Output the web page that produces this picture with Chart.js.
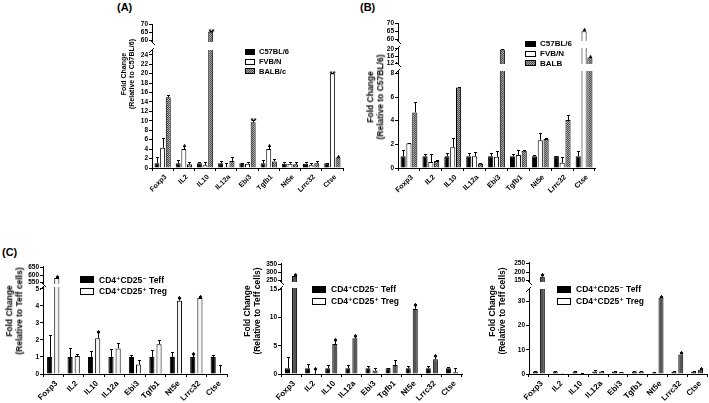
<!DOCTYPE html>
<html>
<head>
<meta charset="utf-8">
<script src="https://cdn.jsdelivr.net/npm/chart.js@4.4.0/dist/chart.umd.min.js"></script>
<style>
body { margin: 0; background: #fff; }
#fig { position: relative; width: 709px; height: 403px; overflow: hidden; background: #fff;
       font-family: 'Liberation Sans', Arial, 'DejaVu Sans', sans-serif; font-weight: bold; color: #000; }
#fig canvas { position: absolute; }
.panel-label { position: absolute; font-size: 11px; }
.ytitle { position: absolute; white-space: nowrap; text-align: center; line-height: 1.15;
          transform: translate(-50%, -50%) rotate(-90deg); }
.legend { position: absolute; }
.legend .row { display: flex; align-items: center; white-space: nowrap; }
.legend .box { display: inline-block; border: 1px solid #000; box-sizing: border-box; }
</style>
</head>
<body>
<div id="fig"></div>
<script>
const FONT = "'Liberation Sans', Arial, sans-serif";

const categories = ['Foxp3', 'IL2', 'IL10', 'IL12a', 'Ebi3', 'Tgfb1', 'Nt5e', 'Lrrc32', 'Ctse'];

// (A) mouse strains, relative to C57BL/6
const aLabels = ['C57BL/6', 'FVB/N', 'BALB/c'];
const aC57 = [1, 1, 1, 1, 1, 1, 0.9, 0.9, 1];
const aC57Sd = [1.4, 0.6, 0.3, 0.4, 0.1, 0.6, 0.4, 0.3, 0.1];
const aFVB = [4.3, 4, 0.6, 0.2, 0.9, 4, 0.9, 0.6, 20];
const aFVBSd = [2, 0.6, 0.6, 0.8, 0.4, 0.6, 0.4, 0.5, 0.1];
const aFVBStars = ['', '*', '', '', '', '*', '', '', '**'];
const aBALB = [15, 0.8, 65.3, 1.5, 9.7, 1.4, 0.8, 1, 2.2];
const aBALBSd = [0.5, 0.4, 0.5, 0.9, 0.4, 0.6, 0.4, 0.4, 0.2];
const aBALBStars = ['', '', '**', '', '**', '', '', '', '*'];
const aTicksTop = [60, 65, 70];
const aTicksLow = [0, 2, 4, 6, 8, 10, 12, 14, 16, 18, 20, 22, 24];

// (B)
const bLabels = ['C57BL/6', 'FVB/N', 'BALB'];
const bC57 = [1, 1, 1, 1, 1, 1, 1, 1, 1];
const bC57Sd = [0.5, 0.15, 0.3, 0.3, 0.3, 0.2, 0.1, 0.02, 0.4];
const bFVB = [2.1, 0.5, 1.75, 1, 0.95, 1.1, 2.35, 0.45, 65];
const bFVBSd = [0.05, 0.7, 0.75, 0.35, 0.45, 0.4, 0.65, 0.5, 0.5];
const bFVBStars = ['', '', '', '', '', '', '', '', '*'];
const bBALB = [4.7, 0.6, 6.8, 0.35, 19.6, 1.45, 2.45, 4.05, 15.2];
const bBALBSd = [0.9, 0.05, 0.05, 0.05, 0.3, 0.05, 0.05, 0.45, 0.3];
const bBALBStars = ['', '', '', '', '', '', '', '', '*'];
const bTicksTop = [60, 65, 70];
const bTicksMid = [12, 16, 20];
const bTicksLow = [0, 2, 4, 6, 8];

// (C) Treg vs Teff, three experiments
const cLabels = ['CD4\u207ACD25\u207B Teff', 'CD4\u207ACD25\u207A Treg'];
const c1Teff = [1, 1, 1, 1, 1, 1, 1, 1, 1];
const c1TeffSd = [1.3, 0.5, 0.35, 0.45, 0.1, 0.4, 0.3, 0.15, 0.1];
const c1TeffStars = ['', '', '', '', '', '', '', '*', ''];
const c1Treg = [580, 1.05, 2.1, 1.5, 0.55, 1.75, 4.3, 4.45, 0.05];
const c1TregSd = [5, 0.15, 0.35, 0.3, 0.3, 0.25, 0.15, 0.05, 0.5];
const c1TregStars = ['*', '', '*', '', '', '', '*', '*', ''];
const c1TicksTop = [550, 600, 650];
const c1TicksLow = [0, 1, 2, 3, 4, 5];

const c2Teff = [1, 1, 1, 1, 1, 1, 1, 1, 1];
const c2TeffSd = [2, 0.7, 0.6, 0.6, 0.5, 0.1, 0.5, 0.5, 0.3];
const c2Treg = [278, 0.05, 5.3, 6.3, 0.6, 1.6, 11.5, 2.6, 0.3];
const c2TregSd = [8, 0.85, 0.7, 0.4, 0.5, 0.9, 0.7, 0.6, 0.8];
const c2TregStars = ['*', '*', '*', '*', '', '', '*', '*', ''];
const c2TicksTop = [250, 300, 350];
const c2TicksLow = [0, 5, 10, 15];

const c3Teff = [1, 1, 1, 1, 1, 1, 0.6, 1, 1];
const c3TeffSd = [0.3, 0.3, 0.3, 0.8, 0.3, 0.3, 0.1, 0.3, 0.2];
const c3Treg = [172, 0.1, 0.3, 1, 0.7, 1, 31.5, 8, 1.8];
const c3TregSd = [8, 0.05, 0.05, 0.2, 0.1, 0.2, 0.3, 0.8, 0.3];
const c3TregStars = ['*', '', '', '', '', '', '*', '*', '*'];
const c3TicksTop = [150, 200, 250];
const c3TicksLow = [0, 10, 20, 30];

const fig = document.getElementById('fig');

function hatchPattern() {
    const c = document.createElement('canvas');
    c.width = 2; c.height = 2;
    const g = c.getContext('2d');
    g.fillStyle = '#a8a8a8'; g.fillRect(0, 0, 2, 2);
    g.fillStyle = '#4a4a4a'; g.fillRect(0, 0, 1, 1); g.fillRect(1, 1, 1, 1);
    return g.createPattern(c, 'repeat');
}
const HATCH = hatchPattern();
const HATCH_CSS = 'repeating-conic-gradient(#4a4a4a 0 25%, #a8a8a8 0 50%) 0 0 / 2px 2px';

// upper error bars + significance stars, drawn only in the segment that holds the bar end
const errorBars = {
    id: 'errorBars',
    afterDatasetsDraw(chart, args, opts) {
        const { ctx, scales: { y } } = chart;
        ctx.save();
        ctx.strokeStyle = '#000';
        ctx.fillStyle = '#000';
        ctx.lineWidth = 1;
        chart.data.datasets.forEach((ds, i) => {
            chart.getDatasetMeta(i).data.forEach((bar, j) => {
                const v = ds.data[j], top = v + ds.sd[j];
                if (top < y.min || v > y.max) return;
                const yA = y.getPixelForValue(Math.max(v, y.min));
                const yB = Math.round(y.getPixelForValue(Math.min(top, y.max))) + 0.5;
                const x = Math.round(bar.x) + 0.5;
                ctx.beginPath();
                ctx.moveTo(x, yA);
                ctx.lineTo(x, yB);
                if (top <= y.max) {
                    const c = Math.max(1.5, bar.width * 0.3);
                    ctx.moveTo(x - c, yB);
                    ctx.lineTo(x + c, yB);
                }
                ctx.stroke();
                if (ds.stars && ds.stars[j] && top <= y.max) {
                    ctx.font = 'bold ' + opts.starSize + 'px ' + FONT;
                    ctx.textAlign = 'center';
                    ctx.textBaseline = 'alphabetic';
                    ctx.fillText(ds.stars[j], x, yB + opts.starSize * 0.35);
                }
            });
        });
        ctx.restore();
    }
};

// axis break marks
const breakMarks = {
    id: 'breakMarks',
    afterDraw(chart, args, opts) {
        const { ctx, chartArea: a } = chart;
        ctx.save();
        ctx.strokeStyle = '#000';
        ctx.lineWidth = 1;
        ctx.beginPath();
        if (opts.top) {
            ctx.moveTo(a.left - 3, a.top + 3);
            ctx.lineTo(a.left + 2, a.top - 2);
        }
        if (opts.bottom) {
            ctx.moveTo(a.left - 2, a.bottom - 2);
            ctx.lineTo(a.left + 3, a.bottom + 3);
        }
        ctx.stroke();
        ctx.restore();
    }
};

// one chart per axis segment, stacked so they read as a single broken axis
function buildPanel(p) {
    p.segments.forEach((seg, k) => {
        const isBottom = k === p.segments.length - 1;
        const padTop = 12, padBot = isBottom ? 0 : 5, padRight = 3;
        const canvas = document.createElement('canvas');
        canvas.width = Math.round(p.right - p.axisX + p.yw + padRight);
        canvas.height = Math.round(seg.bottom - seg.top + padTop + (isBottom ? p.xh : padBot));
        canvas.style.left = Math.round(p.axisX - p.yw) + 'px';
        canvas.style.top = Math.round(seg.top - padTop) + 'px';
        fig.appendChild(canvas);

        new Chart(canvas, {
            type: 'bar',
            data: {
                labels: categories,
                datasets: p.series.map(s => ({
                    label: s.label,
                    data: s.data,
                    sd: s.sd,
                    stars: s.stars,
                    backgroundColor: s.fill,
                    borderColor: '#000',
                    borderWidth: 1,
                    barPercentage: p.barPct,
                    categoryPercentage: p.catPct
                }))
            },
            options: {
                responsive: false,
                animation: false,
                events: [],
                layout: { padding: { top: padTop, bottom: padBot, left: 0, right: padRight } },
                plugins: {
                    legend: { display: false },
                    tooltip: { enabled: false },
                    errorBars: { starSize: p.starSize },
                    breakMarks: { top: k > 0, bottom: !isBottom }
                },
                scales: {
                    x: {
                        display: isBottom,
                        grid: { drawOnChartArea: false, tickLength: 3, color: '#000' },
                        border: { color: '#000', width: 1 },
                        ticks: {
                            color: '#000', minRotation: 45, maxRotation: 45, padding: 2, autoSkip: false,
                            labelOffset: 3,
                            font: { family: FONT, size: p.catFont, weight: 'bold' }
                        },
                        afterFit: s => { if (isBottom) s.height = p.xh; }
                    },
                    y: {
                        min: seg.min,
                        max: seg.max,
                        afterBuildTicks: s => { s.ticks = seg.ticks.map(v => ({ value: v })); },
                        grid: { drawOnChartArea: false, tickLength: 3, color: '#000' },
                        border: { color: '#000', width: 1 },
                        ticks: {
                            color: '#000', padding: 1, autoSkip: false,
                            font: { family: FONT, size: p.tickFont, weight: 'bold' }
                        },
                        afterFit: s => { s.width = p.yw; }
                    }
                }
            },
            plugins: [errorBars, breakMarks]
        });
    });

    const t = document.createElement('div');
    t.className = 'ytitle';
    t.style.left = p.title.x + 'px';
    t.style.top = p.title.y + 'px';
    t.style.fontSize = p.title.size + 'px';
    t.innerHTML = p.title.lines.join('<br>');
    fig.appendChild(t);

    const lg = document.createElement('div');
    lg.className = 'legend';
    lg.style.left = p.legend.x + 'px';
    lg.style.top = p.legend.y + 'px';
    lg.style.fontSize = p.legend.size + 'px';
    p.series.forEach(s => {
        const row = document.createElement('div');
        row.className = 'row';
        row.style.height = p.legend.rowH + 'px';
        const box = document.createElement('span');
        box.className = 'box';
        box.style.width = p.legend.boxW + 'px';
        box.style.height = p.legend.boxH + 'px';
        box.style.marginRight = p.legend.gap + 'px';
        box.style.background = s.css;
        row.appendChild(box);
        row.appendChild(document.createTextNode(s.label));
        lg.appendChild(row);
    });
    fig.appendChild(lg);
}

function panelLabel(text, x, y) {
    const d = document.createElement('div');
    d.className = 'panel-label';
    d.style.left = x + 'px';
    d.style.top = y + 'px';
    d.textContent = text;
    fig.appendChild(d);
}

const strainSeries = (labels, d) => [
    { label: labels[0], data: d[0], sd: d[1], stars: null, fill: '#000', css: '#000' },
    { label: labels[1], data: d[2], sd: d[3], stars: d[4], fill: '#fff', css: '#fff' },
    { label: labels[2], data: d[5], sd: d[6], stars: d[7], fill: HATCH, css: HATCH_CSS }
];
const cellSeries = (d, tregFill) => [
    { label: cLabels[0], data: d[0], sd: d[1], stars: d[2], fill: '#000', css: '#000' },
    { label: cLabels[1], data: d[3], sd: d[4], stars: d[5], fill: tregFill, css: '#fff' }
];

panelLabel('(A)', 117, 1);
buildPanel({
    axisX: 152, right: 343, yw: 20, xh: 30, barPct: 0.88, catPct: 0.8,
    tickFont: 6.5, catFont: 7, starSize: 8,
    segments: [
        { min: 59, max: 70, top: 24, bottom: 41.6, ticks: aTicksTop },
        { min: 0, max: 25, top: 50, bottom: 168, ticks: aTicksLow }
    ],
    series: strainSeries(aLabels, [aC57, aC57Sd, aFVB, aFVBSd, aFVBStars, aBALB, aBALBSd, aBALBStars]),
    title: { x: 128, y: 74, size: 7, lines: ['Fold Change', '(Relative to C57BL/6)'] },
    legend: { x: 245, y: 47, size: 7.5, rowH: 9.7, boxW: 10, boxH: 6, gap: 4 }
});

panelLabel('(B)', 360, 1);
buildPanel({
    axisX: 398, right: 595, yw: 20, xh: 32, barPct: 0.88, catPct: 0.8,
    tickFont: 6.5, catFont: 7.3, starSize: 8,
    segments: [
        { min: 59, max: 70, top: 23, bottom: 40.6, ticks: bTicksTop },
        { min: 11.5, max: 20.5, top: 48, bottom: 64, ticks: bTicksMid },
        { min: 0, max: 8.2, top: 70.6, bottom: 168, ticks: bTicksLow }
    ],
    series: strainSeries(bLabels, [bC57, bC57Sd, bFVB, bFVBSd, bFVBStars, bBALB, bBALBSd, bBALBStars]),
    title: { x: 376, y: 97, size: 8.5, lines: ['Fold Change', '(Relative to C57BL/6)'] },
    legend: { x: 525, y: 39, size: 8, rowH: 9.7, boxW: 11, boxH: 6, gap: 4 }
});

panelLabel('(C)', 2, 246);
buildPanel({
    axisX: 43, right: 227, yw: 20, xh: 29, barPct: 0.72, catPct: 0.7,
    tickFont: 6.5, catFont: 8, starSize: 9,
    segments: [
        { min: 540, max: 660, top: 265.5, bottom: 283.5, ticks: c1TicksTop },
        { min: 0, max: 5.1, top: 287.3, bottom: 374, ticks: c1TicksLow }
    ],
    series: cellSeries([c1Teff, c1TeffSd, c1TeffStars, c1Treg, c1TregSd, c1TregStars], '#f4f4f4'),
    title: { x: 15, y: 311, size: 8.5, lines: ['Fold Change', '(Relative to Teff cells)'] },
    legend: { x: 80, y: 274, size: 8.5, rowH: 11.5, boxW: 14, boxH: 7, gap: 5 }
});

buildPanel({
    axisX: 281, right: 462, yw: 20, xh: 29, barPct: 0.72, catPct: 0.7,
    tickFont: 6.5, catFont: 8, starSize: 9,
    segments: [
        { min: 240, max: 360, top: 263.4, bottom: 282.6, ticks: c2TicksTop },
        { min: 0, max: 15.2, top: 288, bottom: 374, ticks: c2TicksLow }
    ],
    series: cellSeries([c2Teff, c2TeffSd, [], c2Treg, c2TregSd, c2TregStars], '#555'),
    title: { x: 253, y: 311, size: 8.5, lines: ['Fold Change', '(Relative to Teff cells)'] },
    legend: { x: 312, y: 283, size: 8.5, rowH: 12, boxW: 14, boxH: 7, gap: 5 }
});

buildPanel({
    axisX: 529, right: 707, yw: 20, xh: 29, barPct: 0.72, catPct: 0.7,
    tickFont: 6.5, catFont: 8, starSize: 9,
    segments: [
        { min: 140, max: 260, top: 262.3, bottom: 282.7, ticks: c3TicksTop },
        { min: 0, max: 35, top: 289, bottom: 374, ticks: c3TicksLow }
    ],
    series: cellSeries([c3Teff, c3TeffSd, [], c3Treg, c3TregSd, c3TregStars], '#555'),
    title: { x: 498, y: 311, size: 8.5, lines: ['Fold Change', '(Relative to Teff cells)'] },
    legend: { x: 557, y: 283, size: 8.5, rowH: 12, boxW: 14, boxH: 7, gap: 5 }
});
</script>
</body>
</html>
